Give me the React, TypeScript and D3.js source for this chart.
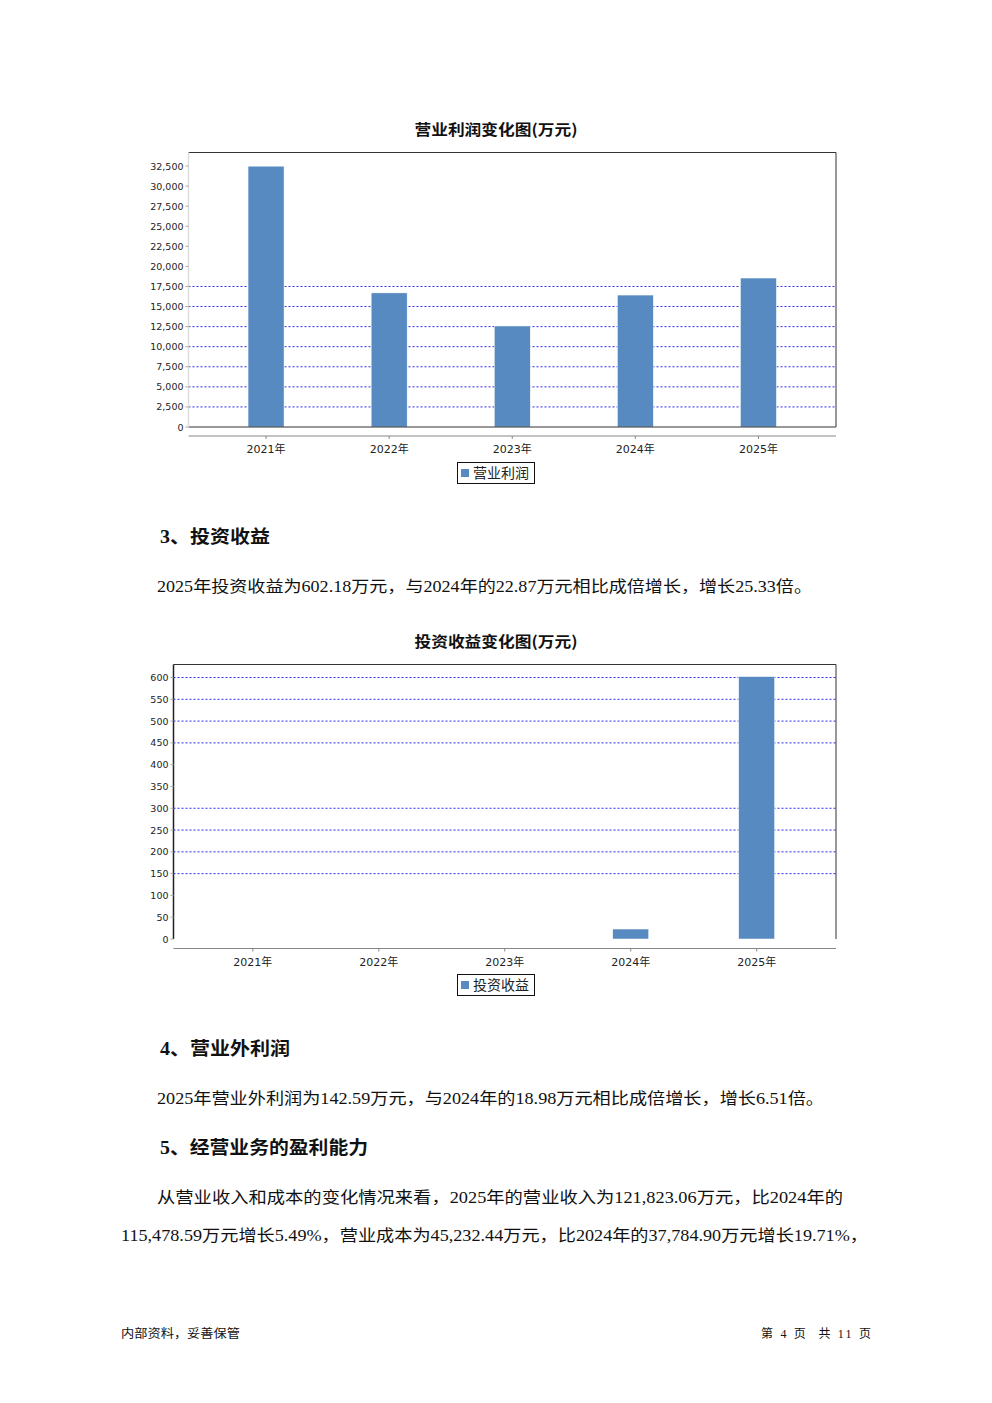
import React from "react";
import * as d3 from "d3";

const years = ["2021年", "2022年", "2023年", "2024年", "2025年"];
const profitValues = [32480, 16700, 12580, 16430, 18550];
const investValues = [0, 0, 0, 22.87, 602.18];
const profitTicks = [0, 2500, 5000, 7500, 10000, 12500, 15000, 17500, 20000, 22500, 25000, 27500, 30000, 32500];
const profitGrid = [2500, 5000, 7500, 10000, 12500, 15000, 17500];
const investTicks = [0, 50, 100, 150, 200, 250, 300, 350, 400, 450, 500, 550, 600];
const investGrid = [150, 200, 250, 300, 450, 500, 550, 600];

const BAR = "#568AC0";
const GRID = "#2B2BEF";
const SANS = "'DejaVu Sans', 'Noto Sans CJK SC', sans-serif";
const BODY = "'Liberation Serif', 'Noto Sans CJK SC', serif";
const HEAD = "'Liberation Serif', 'Noto Sans CJK SC', serif";

type ChartProps = {
  title: string;
  titleY: number;
  legend: string;
  values: number[];
  ticks: number[];
  grid: number[];
  left: number;
  right: number;
  top: number;
  bottom: number;
  tickTopValue: number;
  tickTopY: number;
  axisY: number;
  leftColor: string;
  bottomBorder: boolean;
  legendY: number;
};

function BarChart(p: ChartProps) {
  const y = d3.scaleLinear().domain([0, p.tickTopValue]).range([p.bottom, p.tickTopY]);
  const x = d3.scalePoint<string>().domain(years).range([p.left, p.right]).padding(0.63);
  const fmt = d3.format(",");
  const bw = 36;
  return (
    <g>
      <text x={496} y={p.titleY} textAnchor="middle" fontFamily="'Noto Sans CJK SC', sans-serif" fontWeight="bold" fontSize={15} fill="#111" textLength={163} lengthAdjust="spacingAndGlyphs">
        {p.title}
      </text>
      <rect x={p.left} y={p.top} width={p.right - p.left} height={p.bottom - p.top} fill="#fff" />
      {p.grid.map((v) => (
        <line key={"g" + v} x1={p.left} x2={p.right} y1={y(v)} y2={y(v)} stroke={GRID} strokeWidth={1} strokeDasharray="2,2" />
      ))}
      {p.values.map((v, i) => (
        <rect key={"b" + i} x={(x(years[i]) as number) - bw / 2} y={y(v)} width={bw} height={p.bottom - y(v)} fill={BAR} stroke="#fff" strokeWidth={0.5} />
      ))}
      <line x1={p.left} x2={p.right} y1={p.top} y2={p.top} stroke="#333" strokeWidth={1} />
      <line x1={p.right} x2={p.right} y1={p.top} y2={p.bottom} stroke="#333" strokeWidth={1} />
      {p.bottomBorder && <line x1={p.left} x2={p.right} y1={p.bottom} y2={p.bottom} stroke="#333" strokeWidth={1} />}
      <line x1={p.left} x2={p.left} y1={p.top} y2={p.bottom} stroke={p.leftColor} strokeWidth={1.5} />
      {p.ticks.map((v) => (
        <g key={"t" + v}>
          <line x1={p.left - 3} x2={p.left} y1={y(v)} y2={y(v)} stroke="#aaa" />
          <text x={p.left - 5} y={y(v) + 3.5} textAnchor="end" fontFamily={SANS} fontSize={9.5} fill="#222">
            {fmt(v)}
          </text>
        </g>
      ))}
      <line x1={p.left} x2={p.right} y1={p.axisY} y2={p.axisY} stroke="#888" strokeWidth={1} />
      {years.map((yr) => (
        <g key={"x" + yr}>
          <line x1={x(yr)} x2={x(yr)} y1={p.axisY} y2={p.axisY + 3} stroke="#888" />
          <text x={x(yr)} y={p.axisY + 17} textAnchor="middle" fontFamily={SANS} fontSize={11} fill="#222">
            {yr}
          </text>
        </g>
      ))}
      <rect x={457.5} y={p.legendY} width={77} height={21} fill="#fff" stroke="#111" strokeWidth={1} />
      <rect x={461} y={p.legendY + 6.5} width={8} height={8} fill={BAR} />
      <text x={473} y={p.legendY + 15.5} fontFamily="'Noto Sans CJK SC', sans-serif" fontSize={14} fill="#222">
        {p.legend}
      </text>
    </g>
  );
}

export default function App() {
  return (
    <svg width={992} height={1403} style={{ position: "absolute", left: 0, top: 0, background: "#fff" }}>
      <rect x={0} y={0} width={992} height={1403} fill="#fff" />
      <BarChart
        title="营业利润变化图(万元)"
        titleY={135}
        legend="营业利润"
        values={profitValues}
        ticks={profitTicks}
        grid={profitGrid}
        left={188.5}
        right={836}
        top={152.5}
        bottom={427}
        tickTopValue={32500}
        tickTopY={166}
        axisY={436}
        leftColor="#ddd"
        bottomBorder={true}
        legendY={462.5}
      />
      <text x={160} y={543} fontFamily={HEAD} fontWeight="bold" fontSize={18} fill="#111" textLength={110} lengthAdjust="spacingAndGlyphs">3、投资收益</text>
      <text x={157} y={592} fontFamily={BODY} fontSize={16} fill="#111" textLength={655} lengthAdjust="spacingAndGlyphs">
        2025年投资收益为602.18万元，与2024年的22.87万元相比成倍增长，增长25.33倍。
      </text>
      <BarChart
        title="投资收益变化图(万元)"
        titleY={647}
        legend="投资收益"
        values={investValues}
        ticks={investTicks}
        grid={investGrid}
        left={173.5}
        right={836}
        top={664.5}
        bottom={939}
        tickTopValue={600}
        tickTopY={677.5}
        axisY={948.5}
        leftColor="#222"
        bottomBorder={false}
        legendY={974.5}
      />
      <text x={160} y={1055} fontFamily={HEAD} fontWeight="bold" fontSize={18} fill="#111" textLength={130} lengthAdjust="spacingAndGlyphs">4、营业外利润</text>
      <text x={157} y={1104} fontFamily={BODY} fontSize={16} fill="#111" textLength={667} lengthAdjust="spacingAndGlyphs">
        2025年营业外利润为142.59万元，与2024年的18.98万元相比成倍增长，增长6.51倍。
      </text>
      <text x={160} y={1154} fontFamily={HEAD} fontWeight="bold" fontSize={18} fill="#111" textLength={208} lengthAdjust="spacingAndGlyphs">5、经营业务的盈利能力</text>
      <text x={157} y={1203} fontFamily={BODY} fontSize={16} fill="#111" textLength={686} lengthAdjust="spacingAndGlyphs">
        从营业收入和成本的变化情况来看，2025年的营业收入为121,823.06万元，比2024年的
      </text>
      <text x={121} y={1241} fontFamily={BODY} fontSize={16} fill="#111" textLength={747} lengthAdjust="spacingAndGlyphs">
        115,478.59万元增长5.49%，营业成本为45,232.44万元，比2024年的37,784.90万元增长19.71%，
      </text>
      <text x={121} y={1338} fontFamily={BODY} fontSize={12} fill="#111" textLength={119} lengthAdjust="spacingAndGlyphs">
        内部资料，妥善保管
      </text>
      <text x={761} y={1338} fontFamily={BODY} fontSize={12} fill="#111" xmlSpace="preserve" textLength={110} lengthAdjust="spacing">
        第 4 页  共 11 页
      </text>
    </svg>
  );
}
